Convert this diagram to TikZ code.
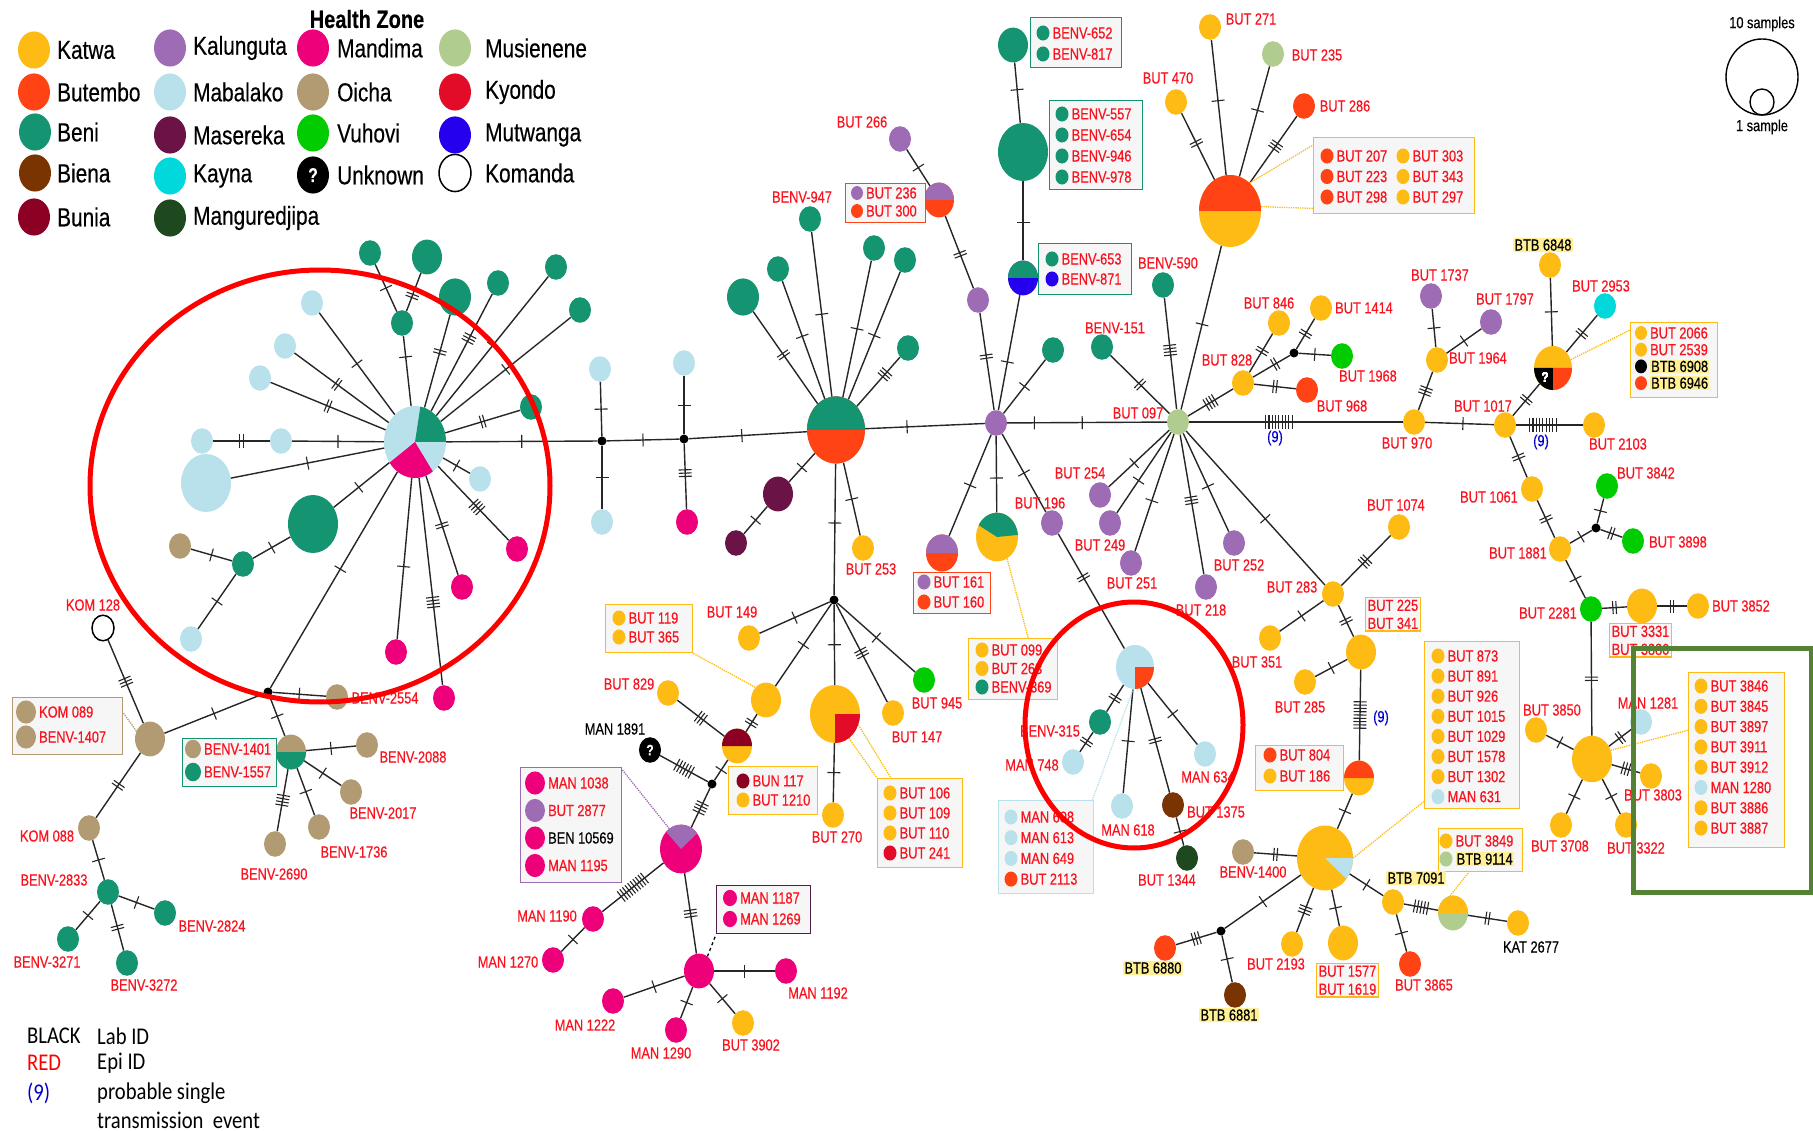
\documentclass[tikz,border=0pt]{standalone}
\usepackage{fontspec}
\setmainfont{Liberation Sans}[FakeStretch=0.8, FakeBold=0.35]
\newfontfamily\legfont{Carlito}[FakeStretch=0.86]
\usetikzlibrary{shapes.geometric}

\definecolor{katwa}{RGB}{253,187,19}
\definecolor{butembo}{RGB}{255,67,21}
\definecolor{beni}{RGB}{20,148,112}
\definecolor{biena}{RGB}{122,52,2}
\definecolor{bunia}{RGB}{139,0,35}
\definecolor{kalunguta}{RGB}{158,108,180}
\definecolor{mabalako}{RGB}{184,225,236}
\definecolor{masereka}{RGB}{107,18,70}
\definecolor{kayna}{RGB}{0,216,220}
\definecolor{mangu}{RGB}{30,72,30}
\definecolor{mandima}{RGB}{238,0,122}
\definecolor{oicha}{RGB}{178,154,114}
\definecolor{vuhovi}{RGB}{0,204,0}
\definecolor{musienene}{RGB}{176,204,142}
\definecolor{kyondo}{RGB}{226,12,40}
\definecolor{mutwanga}{RGB}{36,0,236}
\definecolor{epired}{RGB}{250,18,30}
\definecolor{boxfill}{RGB}{246,246,246}
\definecolor{hilite}{RGB}{255,240,150}
\definecolor{framegreen}{RGB}{84,130,53}
\definecolor{mandbox}{RGB}{80,30,70}

\tikzset{
  hap/.style={ellipse, inner sep=0pt, minimum width=2*#1, minimum height=2.32*#1},
  jn/.style={circle, fill=black, inner sep=0pt, minimum size=9pt},
  link/.style={line width=1.4pt, black!85},
  mut/.style={sloped, inner sep=0pt, pos=#1},
  lab/.style={font=\fontsize{16}{18}\selectfont, text=epired, inner sep=1pt},
  bid/.style={font=\fontsize{16}{18}\selectfont, fill=hilite, rounded corners=2pt, inner sep=1.5pt},
  nine/.style={font=\fontsize{16}{18}\selectfont, text=blue!80!black, inner sep=1pt},
  idframe/.style={draw=#1, fill=boxfill, line width=1.4pt, inner sep=2pt},
  tie/.style={densely dotted, line width=1.3pt, draw=#1},
  leg/.style={font=\fontsize{26}{28}\selectfont, anchor=west, inner sep=0pt},
  legb/.style={font=\legfont\fontsize{24}{26}\selectfont, anchor=west, inner sep=0pt},
  ring/.style={draw=red, line width=5pt},
}

% mutation ticks across a link
\newcommand\muts[1]{\foreach \k in {1,...,#1}{\ifnum\k>1\hspace{2.2pt}\fi\rule[-6.5pt]{1.1pt}{13pt}}}
% one coloured sector of a pie node
\newcommand\slice[5]{\fill[#5] (#1.center) -- ++({#2*cos(#3)*1pt},{1.16*#2*sin(#3)*1pt})
  arc[start angle=#3, end angle=#4, x radius=#2*1pt, y radius=1.16*#2*1pt] -- cycle;}
\newcommand\btb[1]{{\fboxsep=1pt\colorbox{hilite}{\textcolor{black}{#1}}}}
% rows of a sample box
\newcommand\idrows[6]{\foreach \t/\c [count=\j] in {#6}{%
  \node[hap=#5, fill=\c] (#1d\j) at (#2,{#3+(\j-1)*#4}) {};
  \node[lab, anchor=west, inner sep=0pt] (#1t\j) at ({#2+#5+3},{#3+(\j-1)*#4}) {\t};}}

\begin{document}
\begin{tikzpicture}[x=1pt, y=-1pt]
\useasboundingbox (0,0) rectangle (1813,1131);

% legend
\node[font=\bfseries\fontsize{25}{27}\selectfont] (hztitle) at (367,19) {Health Zone};
\foreach \c/\t/\x/\y/\tx [count=\i] in {katwa/Katwa/34/50/57, butembo/Butembo/34/92/57, beni/Beni/35/132/57, biena/Biena/35/173/57, bunia/Bunia/34/217/57,
  kalunguta/Kalunguta/170/48/193, mabalako/Mabalako/170/92/193, masereka/Masereka/170/135/193, kayna/Kayna/170/176/193, mangu/Manguredjipa/170/218/193,
  mandima/Mandima/313/48/337, oicha/Oicha/313/92/337, vuhovi/Vuhovi/313/133/337,
  musienene/Musienene/455/48/485, kyondo/Kyondo/455/92/485, mutwanga/Mutwanga/455/135/485}
  {\node[hap=16, fill=\c] (hz\i) at (\x,\y) {};
   \node[leg] (hzt\i) at (\tx,\y) {\t};}
\node[hap=16, fill=black, text=white, font=\bfseries\fontsize{20}{20}\selectfont] (hzq) at (313,175) {?};
\node[leg] (hzqt) at (337,175) {Unknown};
\node[hap=16, draw=black, line width=1.5pt, fill=white] (hzk) at (455,173) {};
\node[leg] (hzkt) at (485,173) {Komanda};

\node[font=\fontsize{16}{18}\selectfont] (s10) at (1762,24) {10 samples};
\node[ellipse, draw, line width=1.4pt, inner sep=0pt, minimum width=72, minimum height=76] (sbig) at (1762,77) {};
\node[ellipse, draw, line width=1.4pt, inner sep=0pt, minimum width=24, minimum height=26] (ssmall) at (1762,102) {};
\node[font=\fontsize{16}{18}\selectfont] (s1) at (1762,127) {1 sample};

\node[legb] (kb) at (27,1036) {BLACK};  \node[legb] (kbt) at (97,1036) {Lab ID};
\node[legb, text=red] (kr) at (27,1063) {RED};  \node[legb] (krt) at (97,1063) {Epi ID};
\node[legb, text=blue!80!black] (k9) at (27,1093) {(9)};  \node[legb] (k9t) at (97,1093) {probable single};
\node[legb] (k9u) at (97,1120) {transmission~~event};

% haplotype nodes
\foreach \n/\x/\y/\r/\c in {
  lb1/312/303/11/mabalako, lb2/285/346/11/mabalako, lb3/260/378/11/mabalako, lb4/202/441/11/mabalako, lb5/281/441/11/mabalako, lb6/206/483/25/mabalako, lb7/191/639/11/mabalako, lb8/480/479/11/mabalako,
  bn1/313/524/25/beni, bn2/243/564/11/beni, bn3/531/407/11/beni, bn4/370/253/11/beni, bn5/427/257/15/beni, bn6/402/323/11/beni, bn7/455/297/16/beni, bn8/498/283/11/beni, bn9/556/267/11/beni, bn10/580/310/11/beni,
  oi1/180/546/11/oicha, pk1/396/652/11/mandima, pk2/444/698/11/mandima, pk3/462/587/11/mandima, pk4/517/549/11/mandima,
  lb9/600/369/11/mabalako, lb10/602/522/11/mabalako, lb11/684/363/11/mabalako, pk5/687/522/11/mandima,
  ms1/778/494/15/masereka, ms2/736/543/11/masereka, k253/863/548/11/katwa,
  bn11/743/297/16/beni, bn12/778/269/11/beni, b947/810/219/11/beni, bn13/874/248/11/beni, bn14/905/260/11/beni, bn15/908/348/11/beni,
  K/996/423/11/kalunguta, k196/1052/523/11/kalunguta, pu1/978/300/11/kalunguta, k266/900/139/11/kalunguta,
  b557/1023/152/25/beni, b652/1013/45/15/beni, bn16/1053/350/11/beni, b151/1102/347/11/beni, b590/1163/285/11/beni,
  M/1178/422/11/musienene, k470/1176/102/11/katwa, k271/1210/27/11/katwa, m235/1273/54/11/musienene, b286/1304/106/11/butembo,
  k828/1243/383/11/katwa, k846/1279/323/11/katwa, k1414/1321/308/11/katwa, v1968/1342/356/11/vuhovi, b968/1307/390/11/butembo,
  u254/1100/495/11/kalunguta, u249/1110/523/11/kalunguta, u251/1131/563/11/kalunguta, u218/1206/587/11/kalunguta, u252/1234/543/11/kalunguta,
  k283/1333/594/11/katwa, k351/1270/638/11/katwa, k1074/1399/527/11/katwa, p225/1361/652/15/katwa, k285/1305/682/11/katwa,
  o1400/1243/852/11/oicha, b6880/1165/948/11/butembo, e6881/1235/995/11/biena, k2193/1292/944/11/katwa, k1577/1343/943/15/katwa, k7091/1393/902/11/katwa, b3865/1410/964/11/butembo, k2677/1518/923/11/katwa,
  k970/1414/422/11/katwa, k1017/1505/425/11/katwa, k1964/1437/360/11/katwa, u1737/1431/296/11/kalunguta, u1797/1491/322/11/kalunguta, k6848/1550/265/11/katwa, y2953/1605/306/11/kayna, k2103/1594/425/11/katwa,
  k1061/1532/489/11/katwa, k1881/1560/549/11/katwa, v3842/1607/486/11/vuhovi, v3898/1633/541/11/vuhovi, v2281/1591/609/11/vuhovi, k3331/1642/606/15/katwa, k3852/1698/606/11/katwa,
  H/1592/759/20/katwa, k3850/1536/730/11/katwa, l1281/1641/722/11/mabalako, k3803/1651/776/11/katwa, k3708/1561/825/11/katwa, k3322/1626/825/11/katwa,
  k149/749/638/11/katwa, k119/766/700/15/katwa, k829/668/693/11/katwa, pk1190/593/919/11/mandima, pk1270/553/960/11/mandima, pk1187/699/971/15/mandima, pk1192/786/971/11/mandima, pk1222/613/1001/11/mandima, pk1290/676/1030/11/mandima, k3902/743/1023/11/katwa,
  k270/833/815/11/katwa, k147/893/713/11/katwa, v945/924/680/11/vuhovi,
  b315/1100/722/11/beni, l748/1073/762/11/mabalako, l618/1122/806/11/mabalako, e1375/1173/805/11/biena, g1344/1187/858/11/mangu, l634/1205/754/11/mabalako,
  o2554/337/697/11/oicha, o089/150/739/15/oicha, o2088/367/745/11/oicha, o2017/351/792/11/oicha, o1736/319/827/11/oicha, o2690/275/844/11/oicha, o088/89/828/11/oicha,
  b2833/108/892/11/beni, b2824/165/913/11/beni, b3271/68/939/11/beni, b3272/127/963/11/beni,
  C/415/442/31/mabalako, P1/836/430/29/butembo, p236/939/200/15/butembo, p653/1023/278/15/mutwanga, p161/942/553/16/butembo, p099/997/537/21/katwa,
  p207/1230/211/31/katwa, p804/1359/778/15/katwa, H2/1325/858/28/katwa, p3849/1453/913/15/musienene, p2066/1553/368/19/katwa,
  p117/737/746/15/katwa, p1038/681/849/21/mandima, p106/835/714/25/katwa, pm/1135/667/19/mabalako, p1401/291/752/15/oicha}
  \node[hap=\r, fill=\c] (\n) at (\x,\y) {};

\foreach \n/\r/\a/\b/\c in {C/31/0/80/beni, C/31/215/305/mandima, P1/29/0/180/beni, p236/15/0/180/kalunguta, p653/15/0/180/beni,
  p161/16/0/180/kalunguta, p099/21/5/151/beni, p207/31/0/180/butembo, p804/15/0/180/butembo, H2/28/-40/0/mabalako,
  p3849/15/0/180/katwa, p2066/19/180/270/black, p2066/19/270/360/butembo, p117/15/0/180/bunia, p1038/21/40/135/kalunguta,
  p106/25/270/360/kyondo, pm/19/270/360/butembo, p1401/15/180/360/beni}
  \slice{\n}{\r}{\a}{\b}{\c}
\node[text=white, font=\bfseries\fontsize{14}{14}\selectfont, inner sep=0pt] (q2066) at ([xshift=-8pt,yshift=-9pt]p2066.center) {?};

\node[hap=11, draw=black, line width=1.5pt, fill=white] (c128) at (103,628) {};
\node[hap=11, fill=black, text=white, font=\bfseries\fontsize{15}{15}\selectfont] (u1891) at (650,750) {?};

\foreach \n/\x/\y in {d0/268/692, d1/602/441, d2/684/439, d3/834/600, d4/1294/353, d5/1221/931, d6/1596/528, d7/712/784}
  \node[jn] (\n) at (\x,\y) {};

% links with mutation ticks
\foreach \a/\b/\nt/\p in {C/lb1/1/.5, C/lb2/2/.55, C/lb3/2/.5, C/lb5/1/.5, lb5/lb4/2/.5, C/lb6/1/.5, C/bn1/1/.55, bn1/bn2/1/.5, bn2/oi1/1/.5, bn2/lb7/1/.5,
  C/d0/1/.45, C/pk1/1/.55, C/pk2/4/.6, C/pk3/2/.5, C/pk4/4/.55, C/lb8/1/.5, C/bn3/2/.5, C/d1/1/.5, bn6/bn4/1/.5, bn6/bn5/2/.4, bn6/C/1/.3,
  C/bn7/2/.6, C/bn8/3/.62, C/bn9/1/.5, C/bn10/1/.5,
  d1/lb9/1/.5, d1/lb10/1/.5, d1/d2/1/.5, d2/lb11/1/.5, d2/pk5/3/.45, d2/P1/1/.45,
  P1/ms1/1/.5, ms1/ms2/1/.5, P1/k253/1/.5, P1/d3/1/.45, bn11/P1/2/.47, bn12/P1/1/.47, b947/P1/1/.5, bn13/P1/1/.5, bn14/P1/1/.5, bn15/P1/3/.35, P1/K/1/.35,
  K/p161/1/.5, K/p099/1/.55, K/k196/1/.5, k196/pm/2/.38, K/pu1/2/.55, pu1/p236/2/.47, p236/k266/1/.5, K/p653/1/.42, p653/b557/1/.48, b557/b652/1/.55,
  K/bn16/1/.5, b151/M/2/.5, b590/M/4/.47,
  M/p207/1/.52, p207/k470/2/.55, p207/k271/1/.55, p207/m235/1/.6, p207/b286/3/.55, M/k970/9/.42, M/k828/4/.5, k828/d4/2/.6, k846/k828/2/.45,
  d4/k1414/2/.5, d4/v1968/1/.5, k828/b968/2/.5, M/u254/1/.58, M/u249/1/.6, M/u251/1/.57, M/u218/3/.47, M/u252/1/.54, M/k283/1/.57,
  k283/k351/1/.5, k1074/k283/3/.52, k283/p225/2/.5, p225/k285/1/.5, p225/p804/9/.5, p804/H2/1/.5, H2/o1400/2/.5, H2/d5/1/.5, d5/b6880/3/.5,
  d5/e6881/1/.5, H2/k2193/3/.5, H2/k1577/1/.5, H2/k7091/1/.5, k7091/b3865/1/.5, k7091/p3849/5/.5, p3849/k2677/2/.5,
  k970/k1017/1/.55, k970/k1964/3/.5, k1964/u1737/1/.5, k1964/u1797/1/.5, k1017/p2066/2/.5, p2066/k6848/1/.5, p2066/y2953/2/.5, k1017/k2103/9/.4,
  k1017/k1061/2/.5, k1061/k1881/2/.5, k1881/d6/1/.5, d6/v3842/1/.5, d6/v3898/2/.5, k1881/v2281/1/.5, v2281/k3331/2/.5, k3331/k3852/2/.5,
  v2281/H/2/.5, H/k3850/1/.5, H/l1281/2/.5, H/k3803/3/.5, H/k3708/1/.5, H/k3322/1/.5,
  d3/k149/1/.5, d3/k119/1/.5, k119/p117/2/.5, p117/k829/3/.5, p117/d7/1/.5, d7/u1891/6/.5, d7/p1038/4/.5, p1038/pk1190/10/.5, pk1190/pk1270/1/.5,
  p1038/pk1187/3/.5, pk1187/pk1192/1/.5, pk1187/pk1222/1/.5, pk1187/pk1290/1/.5, pk1187/k3902/1/.5, d3/p106/1/.5, p106/k270/1/.5, d3/k147/3/.5, d3/v945/1/.5,
  pm/b315/2/.5, b315/l748/2/.5, pm/l618/1/.5, pm/e1375/2/.5, e1375/g1344/1/.5, pm/l634/1/.5,
  d0/o2554/1/.5, d0/o089/1/.5, d0/p1401/1/.5, p1401/o2088/1/.5, p1401/o2017/1/.5, p1401/o1736/1/.5, p1401/o2690/4/.5, o089/c128/3/.5, o089/o088/2/.5,
  o088/b2833/1/.5, b2833/b2824/1/.5, b2833/b3271/1/.5, b2833/b3272/2/.5}
  \draw[link] (\a) -- node[mut=\p]{\muts{\nt}} (\b);
\draw[link] (K) -- node[mut=.17]{\muts{1}} node[mut=.47]{\muts{1}} (M);

\node[nine] (n1) at (1275,438) {(9)};
\node[nine] (n2) at (1541,442) {(9)};
\node[nine] (n3) at (1381,718) {(9)};

% sample boxes
\foreach \n/\x/\y/\w/\h/\c in {f652/1030/17/91/50/beni, f557/1049/100/93/89/beni, f653/1038/243/93/51/beni, f236/845/183/80/39/butembo,
  f207/1313/137/161/76/katwa, f2066/1630/322/87/75/katwa, f161/913/572/77/41/butembo, f099/968/638/89/61/katwa, f119/605/604/87/48/katwa,
  f117/728/766/89/48/katwa, f106/877/778/85/89/katwa, f804/1255/745/88/45/katwa, f873/1424/641/95/167/katwa, f3849/1438/828/84/43/katwa,
  f3846/1688/672/96/175/katwa, f608/998/800/95/93/mabalako, f089/12/697/110/57/oicha, f1401/182/738/94/48/beni, f1038/520/767/101/115/kalunguta,
  f1187/716/885/94/48/mandbox}
  \node[idframe=\c, minimum width=\w, minimum height=\h, anchor=north west] (\n) at (\x,\y) {};

\idrows{r652}{1043}{33}{21}{6.5}{BENV-652/beni, BENV-817/beni}
\idrows{r557}{1062}{114}{21}{6.5}{BENV-557/beni, BENV-654/beni, BENV-946/beni, BENV-978/beni}
\idrows{r653}{1052}{259}{20}{6.5}{BENV-653/beni, BENV-871/mutwanga}
\idrows{r236}{857}{193}{18}{6}{BUT 236/kalunguta, BUT 300/butembo}
\idrows{r207a}{1327}{156}{20.5}{6.5}{BUT 207/butembo, BUT 223/butembo, BUT 298/butembo}
\idrows{r207b}{1403}{156}{20.5}{6.5}{BUT 303/katwa, BUT 343/katwa, BUT 297/katwa}
\idrows{r2066}{1641}{333}{16.7}{6}{BUT 2066/katwa, BUT 2539/katwa, \btb{BTB 6908}/black, \btb{BTB 6946}/butembo}
\idrows{r161}{924}{582}{20}{6.5}{BUT 161/kalunguta, BUT 160/butembo}
\idrows{r099}{982}{650}{18.5}{6.5}{BUT 099/katwa, BUT 263/katwa, BENV-369/beni}
\idrows{r119}{619}{618}{19}{6.5}{BUT 119/katwa, BUT 365/katwa}
\idrows{r117}{743}{781}{19}{6.5}{BUN 117/bunia, BUT 1210/katwa}
\idrows{r106}{890}{793}{20}{6.5}{BUT 106/katwa, BUT 109/katwa, BUT 110/katwa, BUT 241/kyondo}
\idrows{r804}{1270}{755}{21}{6.5}{BUT 804/butembo, BUT 186/katwa}
\idrows{r873}{1438}{656}{20.1}{6.5}{BUT 873/katwa, BUT 891/katwa, BUT 926/katwa, BUT 1015/katwa, BUT 1029/katwa, BUT 1578/katwa, BUT 1302/katwa, MAN 631/mabalako}
\idrows{r3849}{1446}{841}{18}{6.5}{BUT 3849/katwa, \btb{BTB 9114}/musienene}
\idrows{r3846}{1701}{686}{20.3}{6.5}{BUT 3846/katwa, BUT 3845/katwa, BUT 3897/katwa, BUT 3911/katwa, BUT 3912/katwa, MAN 1280/mabalako, BUT 3886/katwa, BUT 3887/katwa}
\idrows{r608}{1011}{817}{20.7}{6.5}{MAN 608/mabalako, MAN 613/mabalako, MAN 649/mabalako, BUT 2113/butembo}
\idrows{r089}{26}{712}{25}{10}{KOM 089/oicha, BENV-1407/oicha}
\idrows{r1401}{193}{749}{23}{8}{BENV-1401/oicha, BENV-1557/beni}
\idrows{r1038}{535}{783}{27.5}{10}{MAN 1038/mandima, BUT 2877/kalunguta, \textcolor{black}{BEN 10569}/mandima, MAN 1195/mandima}
\idrows{r1187}{730}{898}{21}{7}{MAN 1187/mandima, MAN 1269/mandima}

\node[lab, idframe=katwa, align=left, anchor=north west] (f225) at (1365,597) {BUT 225\\BUT 341};
\node[lab, idframe=katwa, align=left, anchor=north west] (f1577) at (1316,963) {BUT 1577\\BUT 1619};
\node[lab, idframe=katwa, align=left, anchor=north west] (f3331) at (1609,623) {BUT 3331\\BUT 3880};

\draw[tie=katwa] (p207.55) -- ([yshift=-8pt]f207.north west);
\draw[tie=katwa] (p207.8) -- ([yshift=6pt]f207.south west);
\draw[tie=katwa] (p2066.25) -- ([yshift=-8pt]f2066.north west);
\draw[tie=katwa] (p099.-65) -- ([xshift=15pt]f099.north);
\draw[tie=katwa] (f119.south east) -- (k119.130);
\draw[tie=katwa] (p106.-60) -- (f106.north west);
\draw[tie=katwa] (p106.-25) -- ([xshift=14pt]f106.north west);
\draw[tie=katwa] (H2.east) -- ([yshift=8pt]f873.south west);
\draw[tie=katwa] (p3849.100) -- ([xshift=-12pt]f3849.south);
\draw[tie=katwa] (H.25) -- ([yshift=30pt]f3846.west);
\draw[tie=mabalako] (pm.-95) -- ([xshift=-2pt]f608.north east);
\draw[tie=oicha] (o089.150) -- ([yshift=-16pt]f089.north east);
\draw[tie=kalunguta] (p1038.120) -- ([yshift=-3pt]f1038.north east);
\draw[black, dashed, line width=1.3pt] (pk1187.60) -- (f1187.south west);

% sample labels
\foreach \t/\x/\y [count=\i] in {BUT 266/862/122, BENV-947/802/197, BUT 271/1251/19, BUT 235/1317/55, BUT 470/1168/78, BUT 286/1345/106,
  BENV-590/1168/263, BENV-151/1115/328, BUT 846/1269/303, BUT 1414/1364/308, BUT 828/1227/360, BUT 1968/1368/376, BUT 968/1342/406,
  BUT 097/1138/413, BUT 254/1080/473, BUT 196/1040/503, BUT 249/1100/545, BUT 251/1132/583, BUT 252/1239/565, BUT 218/1201/610,
  BUT 283/1292/587, BUT 351/1257/662, BUT 285/1300/707, BUT 945/937/703, BUT 147/917/737, BENV-315/1050/731, MAN 748/1032/765,
  MAN 618/1128/830, BUT 1375/1216/812, MAN 634/1208/777, BUT 1344/1167/880, BENV-1400/1253/872, BUT 2193/1276/964, BUT 3865/1424/985,
  BUT 3708/1560/846, BUT 3322/1636/848, BUT 3803/1653/795, BUT 3850/1552/710, MAN 1281/1648/703, BUT 3852/1741/606, BUT 2281/1548/613,
  BUT 1881/1518/553, BUT 3898/1678/542, BUT 3842/1646/473, BUT 1061/1489/497, BUT 1074/1396/505, BUT 2103/1618/444, BUT 1017/1483/406,
  BUT 970/1407/443, BUT 1964/1478/358, BUT 1737/1440/275, BUT 1797/1505/299, BUT 2953/1601/286, BUT 253/871/569, BUT 149/732/612,
  BUT 829/629/684, BUT 270/837/837, MAN 1190/547/916, MAN 1270/508/962, MAN 1222/585/1025, MAN 1290/661/1053, BUT 3902/751/1045,
  MAN 1192/818/993, KOM 128/93/605, BENV-2554/385/698, BENV-2088/413/757, BENV-2017/383/813, BENV-1736/354/852, BENV-2690/274/874,
  KOM 088/47/836, BENV-2833/54/880, BENV-2824/212/926, BENV-3271/47/962, BENV-3272/144/985}
  \node[lab] (lab\i) at (\x,\y) {\t};
\node[lab, text=black] (lab1891) at (615,729) {MAN 1891};
\node[lab, text=black] (lab2677) at (1531,947) {KAT 2677};
\foreach \t/\x/\y [count=\i] in {BTB 6848/1543/245, BTB 6880/1153/968, BTB 6881/1229/1015, BTB 7091/1416/878}
  \node[bid] (btb\i) at (\x,\y) {\t};

% highlighted clusters
\draw[ring] (320,486) ellipse [x radius=230, y radius=216];
\draw[ring] (1134,725) ellipse [x radius=109, y radius=123];
\draw[framegreen, line width=5pt] (1633,648) rectangle (1811,892);

\end{tikzpicture}
\end{document}
